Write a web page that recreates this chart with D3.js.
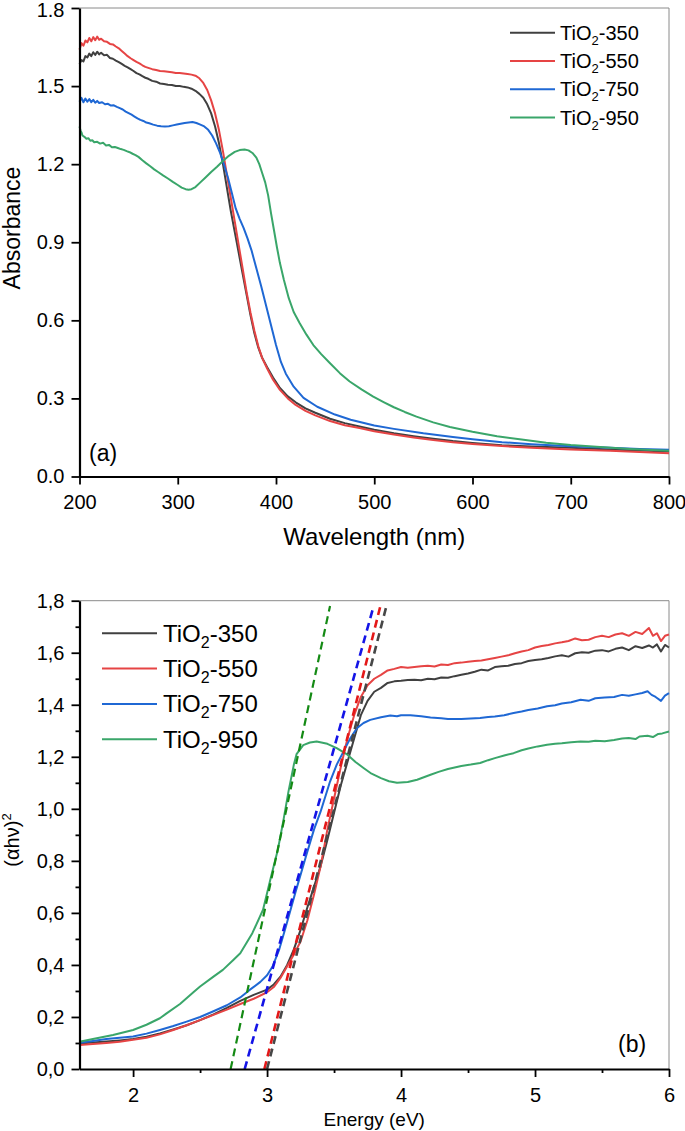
<!DOCTYPE html>
<html><head><meta charset="utf-8">
<script src="https://cdn.jsdelivr.net/npm/d3@7"></script>
<style>
body{margin:0;background:#fff;}
svg text{font-family:"Liberation Sans",Arial,Helvetica,sans-serif;fill:#000;}
</style></head>
<body><svg id="c" width="685" height="1131"></svg>
<script>
// ---------- DATA ----------
const seriesNames = ["TiO2-350","TiO2-550","TiO2-750","TiO2-950"];
const seriesColors = ["#404040","#e64444","#1f68d4","#3aa66a"];
const dashColors = ["#474747","#e41818","#1414e6","#148a14"];

const xTicksA = [200,300,400,500,600,700,800];
const yTicksA = [0,0.3,0.6,0.9,1.2,1.5,1.8];
const xTicksB = [2,3,4,5,6];
const xMinorB = [2.5,3.5,4.5,5.5];
const yTicksB = [0,0.2,0.4,0.6,0.8,1.0,1.2,1.4,1.6,1.8];
const yMinorB = [0.1,0.3,0.5,0.7,0.9,1.1,1.3,1.5,1.7];

// (a) absorbance vs wavelength (nm)
const absA350 = [[200,1.585],[202,1.60],[204,1.595],[206,1.615],[208,1.61],[210,1.625],[212,1.615],[214,1.63],[216,1.62],[218,1.632],[220,1.622],[222,1.628],[225,1.618],[228,1.62],[231,1.608],[234,1.605],[237,1.598],[240,1.592],[243,1.585],[246,1.578],[249,1.572],[252,1.565],[255,1.558],[258,1.55],[261,1.545],[264,1.538],[267,1.532],[270,1.528],[274,1.52],[278,1.517],[282,1.51],[286,1.508],[290,1.505],[294,1.504],[298,1.5],[302,1.5],[306,1.497],[310,1.495],[314,1.49],[318,1.482],[322,1.47],[326,1.455],[330,1.43],[334,1.395],[338,1.345],[342,1.28],[346,1.20],[350,1.11],[354,1.02],[358,0.94],[362,0.86],[366,0.78],[370,0.70],[374,0.62],[378,0.55],[382,0.495],[386,0.455],[391,0.42],[397,0.38],[404,0.34],[412,0.308],[420,0.285],[430,0.262],[440,0.245],[455,0.222],[470,0.205],[485,0.192],[500,0.18],[520,0.166],[540,0.155],[560,0.145],[580,0.136],[600,0.129],[630,0.12],[660,0.115],[700,0.11],[740,0.104],[770,0.1],[800,0.096]];
const absA550 = [[200,1.64],[202,1.665],[204,1.655],[206,1.675],[208,1.668],[210,1.685],[212,1.672],[214,1.688],[216,1.676],[218,1.69],[220,1.678],[222,1.682],[225,1.672],[228,1.67],[231,1.662],[234,1.66],[237,1.652],[240,1.645],[243,1.635],[246,1.625],[249,1.615],[252,1.607],[255,1.6],[258,1.593],[261,1.587],[264,1.58],[267,1.574],[270,1.57],[274,1.565],[278,1.562],[282,1.558],[286,1.557],[290,1.555],[294,1.553],[298,1.55],[302,1.55],[306,1.548],[310,1.546],[314,1.544],[318,1.54],[322,1.53],[326,1.512],[330,1.485],[334,1.445],[338,1.395],[342,1.33],[346,1.25],[350,1.16],[354,1.07],[358,0.98],[362,0.89],[366,0.80],[370,0.71],[374,0.63],[378,0.56],[382,0.50],[386,0.455],[391,0.415],[397,0.372],[404,0.333],[412,0.30],[420,0.275],[430,0.252],[440,0.235],[455,0.213],[470,0.197],[485,0.186],[500,0.174],[520,0.161],[540,0.15],[560,0.14],[580,0.132],[600,0.125],[630,0.117],[660,0.11],[700,0.104],[740,0.099],[770,0.094],[800,0.089]];
const absA750 = [[200,1.44],[202,1.455],[204,1.438],[206,1.452],[208,1.44],[210,1.45],[212,1.438],[214,1.447],[216,1.436],[218,1.443],[220,1.435],[223,1.438],[226,1.43],[229,1.432],[232,1.425],[235,1.426],[238,1.42],[241,1.415],[244,1.41],[247,1.402],[250,1.396],[253,1.39],[256,1.383],[259,1.376],[262,1.37],[265,1.366],[268,1.36],[271,1.357],[275,1.352],[279,1.348],[283,1.346],[287,1.345],[291,1.346],[295,1.349],[299,1.352],[303,1.355],[307,1.358],[311,1.36],[315,1.362],[319,1.358],[323,1.352],[327,1.345],[331,1.332],[335,1.31],[339,1.28],[343,1.244],[347,1.20],[351,1.15],[355,1.09],[359,1.03],[363,0.99],[367,0.955],[371,0.915],[375,0.87],[380,0.80],[385,0.73],[390,0.655],[395,0.58],[400,0.505],[405,0.44],[410,0.395],[418,0.345],[428,0.302],[442,0.268],[460,0.238],[476,0.218],[500,0.196],[520,0.183],[550,0.166],[580,0.152],[600,0.143],[630,0.132],[660,0.124],[700,0.116],[740,0.11],[770,0.106],[800,0.103]];
const absA950 = [[200,1.345],[201,1.33],[202,1.322],[203,1.31],[205,1.305],[207,1.298],[209,1.3],[211,1.29],[213,1.292],[215,1.284],[218,1.286],[221,1.279],[224,1.282],[227,1.272],[230,1.274],[233,1.265],[236,1.266],[239,1.262],[242,1.258],[245,1.255],[248,1.25],[251,1.246],[254,1.24],[257,1.235],[260,1.228],[264,1.215],[268,1.203],[272,1.192],[276,1.18],[280,1.17],[285,1.157],[290,1.145],[295,1.132],[300,1.12],[304,1.11],[308,1.104],[311,1.102],[314,1.104],[318,1.112],[323,1.13],[328,1.148],[334,1.17],[340,1.19],[346,1.212],[352,1.232],[358,1.247],[363,1.254],[368,1.256],[372,1.253],[376,1.243],[380,1.225],[383,1.20],[386,1.165],[389,1.13],[392,1.08],[395,1.01],[398,0.945],[401,0.88],[404,0.82],[408,0.756],[413,0.685],[418,0.632],[424,0.59],[431,0.545],[438,0.505],[446,0.47],[455,0.435],[465,0.397],[475,0.365],[487,0.335],[499,0.307],[510,0.285],[520,0.266],[531,0.248],[543,0.23],[560,0.208],[577,0.19],[600,0.172],[625,0.155],[650,0.142],[675,0.13],[700,0.121],[730,0.113],[760,0.106],[800,0.099]];

// (b) (alpha h nu)^2 vs energy (eV)
const tauc350 = [[1.6,0.098],[1.7,0.102],[1.8,0.106],[1.9,0.11],[2.0,0.115],[2.1,0.124],[2.2,0.137],[2.3,0.152],[2.4,0.168],[2.5,0.188],[2.6,0.21],[2.7,0.235],[2.8,0.262],[2.9,0.285],[3.0,0.305],[3.05,0.325],[3.1,0.355],[3.15,0.40],[3.2,0.46],[3.25,0.535],[3.3,0.62],[3.35,0.70],[3.4,0.78],[3.45,0.88],[3.5,0.985],[3.55,1.09],[3.6,1.18],[3.65,1.27],[3.7,1.36],[3.75,1.415],[3.8,1.45],[3.85,1.465],[3.9,1.484],[3.95,1.49],[4.0,1.492],[4.05,1.495],[4.1,1.496],[4.15,1.494],[4.2,1.50],[4.25,1.498],[4.3,1.505],[4.35,1.504],[4.4,1.51],[4.45,1.515],[4.5,1.52],[4.55,1.527],[4.6,1.535],[4.65,1.532],[4.7,1.545],[4.75,1.548],[4.8,1.55],[4.85,1.557],[4.9,1.56],[4.95,1.568],[5.0,1.572],[5.05,1.575],[5.1,1.58],[5.15,1.586],[5.2,1.59],[5.25,1.585],[5.3,1.598],[5.35,1.602],[5.4,1.60],[5.45,1.608],[5.5,1.61],[5.55,1.605],[5.6,1.615],[5.65,1.62],[5.7,1.61],[5.75,1.625],[5.8,1.618],[5.85,1.628],[5.88,1.62],[5.91,1.632],[5.94,1.605],[5.97,1.63],[6.0,1.62]];
const tauc550 = [[1.6,0.092],[1.7,0.096],[1.8,0.10],[1.9,0.105],[2.0,0.112],[2.1,0.12],[2.2,0.133],[2.3,0.15],[2.4,0.168],[2.5,0.188],[2.6,0.208],[2.7,0.228],[2.8,0.25],[2.9,0.27],[3.0,0.295],[3.05,0.315],[3.1,0.35],[3.15,0.395],[3.2,0.44],[3.25,0.49],[3.3,0.57],[3.35,0.67],[3.4,0.78],[3.45,0.92],[3.5,1.04],[3.55,1.16],[3.6,1.27],[3.65,1.36],[3.7,1.43],[3.75,1.475],[3.8,1.50],[3.85,1.515],[3.9,1.532],[3.95,1.538],[4.0,1.545],[4.05,1.542],[4.1,1.545],[4.15,1.548],[4.2,1.55],[4.25,1.547],[4.3,1.555],[4.35,1.553],[4.4,1.56],[4.45,1.562],[4.5,1.565],[4.55,1.568],[4.6,1.57],[4.65,1.575],[4.7,1.58],[4.75,1.585],[4.8,1.59],[4.85,1.598],[4.9,1.605],[4.95,1.61],[5.0,1.62],[5.05,1.626],[5.1,1.63],[5.15,1.636],[5.2,1.64],[5.25,1.645],[5.3,1.655],[5.35,1.648],[5.4,1.65],[5.45,1.66],[5.5,1.665],[5.55,1.66],[5.6,1.67],[5.65,1.675],[5.7,1.665],[5.75,1.68],[5.8,1.672],[5.85,1.695],[5.88,1.665],[5.91,1.675],[5.94,1.645],[5.97,1.665],[6.0,1.67]];
const tauc750 = [[1.6,0.101],[1.7,0.108],[1.8,0.115],[1.9,0.12],[2.0,0.125],[2.1,0.136],[2.2,0.15],[2.3,0.165],[2.4,0.182],[2.5,0.20],[2.6,0.222],[2.7,0.245],[2.8,0.275],[2.87,0.304],[2.95,0.335],[3.0,0.36],[3.04,0.393],[3.09,0.458],[3.14,0.547],[3.21,0.676],[3.29,0.817],[3.35,0.92],[3.4,0.99],[3.47,1.105],[3.52,1.17],[3.57,1.22],[3.62,1.27],[3.67,1.31],[3.72,1.33],[3.77,1.342],[3.85,1.352],[3.92,1.359],[3.97,1.356],[4.0,1.36],[4.07,1.36],[4.15,1.356],[4.22,1.351],[4.3,1.348],[4.35,1.345],[4.45,1.345],[4.52,1.347],[4.59,1.349],[4.65,1.353],[4.7,1.355],[4.77,1.36],[4.84,1.368],[4.9,1.374],[4.95,1.38],[5.02,1.386],[5.09,1.394],[5.15,1.398],[5.2,1.405],[5.27,1.41],[5.34,1.419],[5.4,1.415],[5.45,1.425],[5.52,1.428],[5.59,1.43],[5.65,1.438],[5.7,1.435],[5.75,1.44],[5.8,1.445],[5.84,1.452],[5.87,1.438],[5.9,1.43],[5.94,1.415],[5.97,1.435],[6.0,1.445]];
const tauc950 = [[1.6,0.105],[1.7,0.115],[1.85,0.131],[2.0,0.15],[2.1,0.17],[2.2,0.195],[2.25,0.214],[2.35,0.25],[2.45,0.295],[2.5,0.317],[2.6,0.355],[2.67,0.381],[2.75,0.42],[2.8,0.445],[2.89,0.522],[2.97,0.612],[3.03,0.74],[3.08,0.842],[3.12,0.95],[3.16,1.067],[3.2,1.17],[3.22,1.21],[3.27,1.245],[3.32,1.255],[3.37,1.259],[3.45,1.25],[3.52,1.233],[3.6,1.208],[3.66,1.18],[3.72,1.157],[3.78,1.135],[3.85,1.118],[3.91,1.106],[3.97,1.10],[4.05,1.103],[4.12,1.112],[4.22,1.131],[4.28,1.142],[4.35,1.153],[4.45,1.165],[4.52,1.17],[4.59,1.176],[4.65,1.187],[4.7,1.195],[4.77,1.205],[4.84,1.214],[4.9,1.225],[4.95,1.232],[5.02,1.24],[5.09,1.246],[5.15,1.25],[5.2,1.252],[5.27,1.256],[5.34,1.259],[5.4,1.258],[5.45,1.262],[5.52,1.26],[5.59,1.265],[5.65,1.27],[5.7,1.272],[5.75,1.268],[5.78,1.278],[5.84,1.281],[5.88,1.276],[5.92,1.288],[5.95,1.29],[6.0,1.297]];

// linear fits (tangent lines) : [E at y=0, E at top end]
const fitStart = [3.0, 2.98, 2.833, 2.728];
const fitEnd = [3.891, 3.846, 3.796, 3.47];
const fitTop = 1.78;

// ---------- DRAW ----------
const svg = d3.select("#c");
const L = 79.5, R = 669;

function panel(o){
  const x = d3.scaleLinear().domain(o.xd).range([L,R]);
  const y = d3.scaleLinear().domain([0,1.8]).range([o.bottom,o.top]);
  const g = svg.append("g");
  g.append("line").attr("x1",L).attr("x2",R).attr("y1",o.top).attr("y2",o.top).attr("stroke","#8a8a8a").attr("stroke-width",1);
  g.append("line").attr("x1",R).attr("x2",R).attr("y1",o.top).attr("y2",o.bottom).attr("stroke","#8a8a8a").attr("stroke-width",1);
  return {x,y,g};
}
function styleAxis(sel){
  sel.select(".domain").attr("stroke","#000").attr("stroke-width",2.2);
  sel.selectAll(".tick line").attr("stroke","#000").attr("stroke-width",1.8);
  sel.selectAll(".tick text").attr("font-size",20).attr("fill","#000")
    .attr("font-family","'Liberation Sans',Arial,sans-serif");
}

// ---- panel (a)
const A = panel({xd:[200,800], top:8, bottom:476.5});
const seriesA = [absA350,absA550,absA750,absA950];
const lineA = d3.line().x(d=>A.x(d[0])).y(d=>A.y(d[1]));
seriesA.forEach((s,i)=>{
  A.g.append("path").attr("d",lineA(s)).attr("fill","none").attr("stroke",seriesColors[i]).attr("stroke-width",2).attr("stroke-linejoin","round");
});
const axA_x = A.g.append("g").attr("transform",`translate(0,476.5)`)
  .call(d3.axisBottom(A.x).tickValues(xTicksA).tickSize(8).tickSizeOuter(0).tickPadding(10).tickFormat(d3.format("d")));
styleAxis(axA_x);
const axA_y = A.g.append("g").attr("transform",`translate(${L},0)`)
  .call(d3.axisLeft(A.y).tickValues(yTicksA).tickSize(8).tickSizeOuter(0).tickPadding(7).tickFormat(d3.format(".1f")));
styleAxis(axA_y);
axA_y.selectAll(".tick text").filter(d=>d===1.8).attr("dy","0.42em");
A.g.append("text").attr("x",(L+R)/2).attr("y",545).attr("text-anchor","middle").attr("font-size",24).text("Wavelength (nm)");
A.g.append("text").attr("transform","translate(20,228) rotate(-90)").attr("text-anchor","middle").attr("font-size",23).text("Absorbance");
A.g.append("text").attr("x",89).attr("y",461).attr("font-size",23).text("(a)");
seriesNames.forEach((n,i)=>{
  const yy = 32.7 + i*28.3;
  A.g.append("line").attr("x1",510).attr("x2",555).attr("y1",yy).attr("y2",yy).attr("stroke",seriesColors[i]).attr("stroke-width",2);
  const t = A.g.append("text").attr("x",560).attr("y",yy+7).attr("font-size",20);
  t.append("tspan").text("TiO");
  t.append("tspan").attr("font-size",13).attr("dy",5).text("2");
  t.append("tspan").attr("dy",-5).text(n.slice(4));
});

// ---- panel (b)
const B = panel({xd:[1.6,6], top:600.7, bottom:1069});
const seriesB = [tauc350,tauc550,tauc750,tauc950];
const lineB = d3.line().x(d=>B.x(d[0])).y(d=>B.y(d[1]));
seriesB.forEach((s,i)=>{
  B.g.append("path").attr("d",lineB(s)).attr("fill","none").attr("stroke",seriesColors[i]).attr("stroke-width",2).attr("stroke-linejoin","round");
});
[3,2,1,0].forEach(i=>{
  B.g.append("line").attr("x1",B.x(fitStart[i])).attr("y1",B.y(0)).attr("x2",B.x(fitEnd[i])).attr("y2",B.y(fitTop))
    .attr("stroke",dashColors[i]).attr("stroke-width",i===3?2.2:2.6).attr("stroke-dasharray","8,5");
});
const axB_x = B.g.append("g").attr("transform",`translate(0,1069)`)
  .call(d3.axisBottom(B.x).tickValues(xTicksB).tickSize(8).tickSizeOuter(0).tickPadding(11).tickFormat(d3.format("d")));
styleAxis(axB_x);
const axB_xm = B.g.append("g").attr("transform",`translate(0,1069)`)
  .call(d3.axisBottom(B.x).tickValues(xMinorB).tickSize(4).tickSizeOuter(0).tickFormat(""));
axB_xm.select(".domain").remove(); axB_xm.selectAll(".tick line").attr("stroke","#000").attr("stroke-width",1.8);
const axB_y = B.g.append("g").attr("transform",`translate(${L},0)`)
  .call(d3.axisLeft(B.y).tickValues(yTicksB).tickSize(8).tickSizeOuter(0).tickPadding(7).tickFormat(d=>d3.format(".1f")(d).replace(".",",")));
styleAxis(axB_y);
const axB_ym = B.g.append("g").attr("transform",`translate(${L},0)`)
  .call(d3.axisLeft(B.y).tickValues(yMinorB).tickSize(4).tickSizeOuter(0).tickFormat(""));
axB_ym.select(".domain").remove(); axB_ym.selectAll(".tick line").attr("stroke","#000").attr("stroke-width",1.8);
B.g.append("text").attr("x",(L+R)/2).attr("y",1126).attr("text-anchor","middle").attr("font-size",19).text("Energy (eV)");
const yt = B.g.append("text").attr("transform","translate(19,840) rotate(-90)").attr("text-anchor","middle").attr("font-size",20);
yt.append("tspan").text("(αhν)");
yt.append("tspan").attr("font-size",13).attr("dy",-8).text("2");
B.g.append("text").attr("x",618).attr("y",1052).attr("font-size",23).text("(b)");
seriesNames.forEach((n,i)=>{
  const yy = 633.3 + i*35.3;
  B.g.append("line").attr("x1",102).attr("x2",157).attr("y1",yy).attr("y2",yy).attr("stroke",seriesColors[i]).attr("stroke-width",2);
  const t = B.g.append("text").attr("x",163).attr("y",yy+8.5).attr("font-size",24);
  t.append("tspan").text("TiO");
  t.append("tspan").attr("font-size",16).attr("dy",6).text("2");
  t.append("tspan").attr("dy",-6).text(n.slice(4));
});
</script></body></html>
